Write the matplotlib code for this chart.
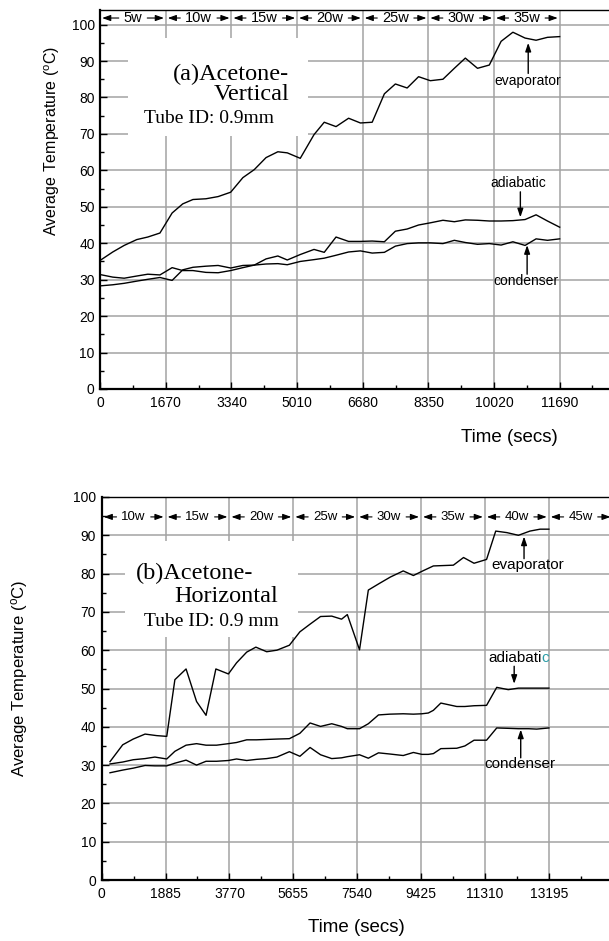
import matplotlib
matplotlib.use("Agg")
import matplotlib.pyplot as plt
from matplotlib.ticker import MultipleLocator
from matplotlib.patches import Rectangle

plt.rcParams['font.family'] = ['Liberation Sans', 'DejaVu Sans']
plt.rcParams['mathtext.fontset'] = 'custom'
plt.rcParams['mathtext.rm'] = 'Liberation Sans'
plt.rcParams['mathtext.it'] = 'Liberation Sans:italic'

# ---------------- data: (a) Acetone - Vertical ----------------
time_a = [0, 320, 610, 930, 1210, 1520, 1830, 2100, 2360, 2690, 3000, 3320, 3630, 3920,
          4220, 4520, 4760, 5090, 5440, 5700, 6000, 6320, 6620, 6920, 7230, 7510, 7810,
          8100, 8400, 8720, 9010, 9290, 9600, 9900, 10200, 10500, 10810, 11090, 11380, 11690]
evap_a = [35.3, 37.6, 39.4, 41.0, 41.7, 42.8, 48.3, 50.8, 52.0, 52.2, 52.8, 54.0, 58.0, 60.2,
          63.5, 65.1, 64.8, 63.3, 69.8, 73.2, 72.0, 74.3, 73.0, 73.2, 81.0, 83.7, 82.6,
          85.7, 84.6, 85.0, 88.0, 90.8, 88.0, 88.9, 95.4, 97.9, 96.3, 95.7, 96.5, 96.7]
adia_a = [31.4, 30.7, 30.4, 31.0, 31.5, 31.3, 33.3, 32.5, 32.5, 32.0, 31.9, 32.5, 33.3, 34.0,
          35.7, 36.5, 35.4, 36.9, 38.3, 37.5, 41.7, 40.5, 40.5, 40.6, 40.4, 43.3, 43.9,
          45.0, 45.6, 46.3, 45.9, 46.4, 46.3, 46.1, 46.1, 46.2, 46.5, 47.8, 46.1, 44.4]
cond_a = [28.3, 28.6, 29.0, 29.6, 30.1, 30.6, 29.8, 32.7, 33.4, 33.7, 33.9, 33.2, 33.9, 34.0,
          34.3, 34.4, 34.1, 35.0, 35.5, 35.9, 36.7, 37.6, 37.9, 37.3, 37.5, 39.2, 39.9,
          40.1, 40.1, 39.9, 40.8, 40.2, 39.7, 39.9, 39.5, 40.4, 39.4, 41.2, 40.8, 41.2]
xticks_a = [0, 1670, 3340, 5010, 6680, 8350, 10020, 11690]
seg_a = ["5w", "10w", "15w", "20w", "25w", "30w", "35w"]

# ---------------- data: (b) Acetone - Horizontal ----------------
time_b_evap = [245, 620, 930, 1280, 1620, 1920, 2160, 2490, 2800, 3080, 3370, 3740, 3980,
               4280, 4550, 4870, 5170, 5540, 5850, 6150, 6460, 6790, 7080, 7250, 7610,
               7870, 8190, 8520, 8900, 9200, 9500, 9790, 10380, 10680, 10990, 11360,
               11630, 11960, 12300, 12640, 12940, 13200]
evap_b = [30.9, 35.3, 36.8, 38.1, 37.7, 37.5, 52.3, 55.1, 46.6, 43.0, 55.1, 53.8, 56.7,
          59.5, 60.8, 59.6, 60.0, 61.3, 64.8, 66.8, 68.8, 68.9, 68.1, 69.3, 60.1,
          75.7, 77.4, 79.1, 80.7, 79.5, 80.8, 82.0, 82.2, 84.2, 82.7, 83.7,
          91.1, 90.7, 90.0, 91.1, 91.6, 91.6]
time_b = [245, 620, 930, 1280, 1570, 1920, 2160, 2490, 2800, 3080, 3390, 3740, 3980, 4280,
          4570, 4870, 5170, 5540, 5850, 6150, 6460, 6790, 7080, 7250, 7610, 7870, 8170,
          8500, 8900, 9200, 9450, 9640, 9790, 10010, 10480, 10720, 10990, 11360, 11660,
          12000, 12300, 12600, 12840, 13200]
adia_b = [30.3, 30.8, 31.4, 31.7, 32.1, 31.6, 33.6, 35.2, 35.6, 35.2, 35.2, 35.6, 35.9, 36.6,
          36.6, 36.7, 36.8, 36.9, 38.3, 41.0, 40.1, 40.8, 40.1, 39.5, 39.5, 40.8, 43.1,
          43.3, 43.4, 43.3, 43.4, 43.6, 44.3, 46.2, 45.3, 45.3, 45.5, 45.6, 50.3,
          49.7, 50.1, 50.1, 50.1, 50.1]
cond_b = [28.0, 28.7, 29.2, 29.9, 29.8, 29.8, 30.5, 31.3, 30.0, 31.0, 31.0, 31.2, 31.6, 31.2,
          31.5, 31.7, 32.1, 33.5, 32.3, 34.6, 32.7, 31.7, 31.9, 32.2, 32.7, 31.8, 33.2,
          32.9, 32.5, 33.3, 32.8, 32.8, 33.0, 34.3, 34.4, 35.0, 36.5, 36.5, 39.7,
          39.6, 39.5, 39.5, 39.4, 39.7]
xticks_b = [0, 1885, 3770, 5655, 7540, 9425, 11310, 13195]
seg_b = ["10w", "15w", "20w", "25w", "30w", "35w", "40w", "45w"]
yticks = [0, 10, 20, 30, 40, 50, 60, 70, 80, 90, 100]

W, H = 609, 941
fig = plt.figure(figsize=(W / 100, H / 100), dpi=100)


def fx(px):
    return px / W


def fy(py):
    return 1 - py / H


GRID = '#a3a3a3'


def style_axes(ax, xticks, xminor, xlim, ylim):
    ax.set_xlim(*xlim)
    ax.set_ylim(*ylim)
    ax.set_xticks(xticks)
    ax.set_xticklabels([str(v) for v in xticks])
    ax.xaxis.set_minor_locator(MultipleLocator(xminor))
    ax.set_yticks(yticks)
    ax.set_yticklabels([str(v) for v in yticks])
    ax.yaxis.set_minor_locator(MultipleLocator(5))
    ax.set_axisbelow(True)
    ax.grid(True, which='major', color=GRID, lw=1.1)
    ax.tick_params(which='both', direction='in', top=False, right=False,
                   labelsize=10, width=1.0, color='black')
    ax.tick_params(which='major', length=5, pad=4)
    ax.tick_params(which='minor', length=3)
    ax.tick_params(axis='x', pad=5)
    for s in ['left', 'bottom']:
        ax.spines[s].set_linewidth(1.6)
    ax.spines['top'].set_linewidth(1.0)
    ax.spines['right'].set_visible(False)


def segments(ax, bounds, labels, y, fs, gap):
    ap = dict(arrowstyle='-|>,head_length=0.5,head_width=0.18', mutation_scale=10,
              lw=0.8, color='black', shrinkA=1.5, shrinkB=0)
    for i, lab in enumerate(labels):
        a, b = bounds[i], bounds[i + 1]
        c = (a + b) / 2
        ax.annotate(lab, xy=(a + gap, y), xytext=(c, y), ha='center', va='center',
                    fontsize=fs, arrowprops=ap, annotation_clip=False, zorder=4)
        ax.annotate(lab, xy=(b - gap, y), xytext=(c, y), ha='center', va='center',
                    fontsize=fs, color='none', arrowprops=ap, annotation_clip=False, zorder=4)


def pointer(ax, x, y0, y1):
    ax.annotate('', xy=(x, y1), xytext=(x, y0),
                arrowprops=dict(arrowstyle='-|>,head_length=0.5,head_width=0.17',
                                mutation_scale=10, lw=1.0, color='black',
                                shrinkA=0, shrinkB=0), zorder=4)


# ---------------- panel (a) ----------------
ax1 = fig.add_axes([fx(100.2), fy(389), fx(625.3) - fx(100.2), fy(10) - fy(389)])
style_axes(ax1, xticks_a, 835, (0, 13360), (0, 104))
ax1.add_patch(Rectangle((708, 69.3), 5289 - 708, 96.3 - 69.3, facecolor='white',
                        edgecolor='none', zorder=1))
for ser in (evap_a, adia_a, cond_a):
    ax1.plot(time_a, ser, color='black', lw=1.0, zorder=2)
segments(ax1, xticks_a, seg_a, 101.8, 10.5, 50)
serif = ['Liberation Serif', 'DejaVu Serif']
ax1.text(4805, 84.8, "(a)Acetone-", family=serif, fontsize=17.5, ha='right', va='baseline', zorder=3)
ax1.text(4805, 79.3, "Vertical", family=serif, fontsize=17.5, ha='right', va='baseline', zorder=3)
ax1.text(1115, 73.0, "Tube ID: 0.9mm", family=serif, fontsize=14, ha='left', va='baseline', zorder=3)
ax1.text(10870, 84.6, "evaporator", fontsize=10, ha='center', va='center')
pointer(ax1, 10890, 86.6, 95.0)
ax1.text(10643, 56.6, "adiabatic", fontsize=10, ha='center', va='center')
pointer(ax1, 10690, 54.1, 47.1)
ax1.text(10822, 29.7, "condenser", fontsize=10, ha='center', va='center')
pointer(ax1, 10862, 31.5, 39.5)

fig.text(fx(52), fy(141), "Average Temperature ($^{\\rm o}$C)", rotation=90,
         ha='center', va='center', fontsize=11.5)
fig.text(fx(509), fy(437), "Time (secs)", ha='center', va='center', fontsize=13.5)

# ---------------- panel (b) ----------------
ax2 = fig.add_axes([fx(101.7), fy(880), fx(612.6) - fx(101.7), fy(497) - fy(880)])
style_axes(ax2, xticks_b, 942.5, (0, 15080), (0, 100))
ax2.add_patch(Rectangle((700, 63.4), 5795 - 700, 88.5 - 63.4, facecolor='white',
                        edgecolor='none', zorder=1))
ax2.plot(time_b_evap, evap_b, color='black', lw=1.0, zorder=2)
ax2.plot(time_b, adia_b, color='black', lw=1.0, zorder=2)
ax2.plot(time_b, cond_b, color='black', lw=1.0, zorder=2)
segments(ax2, xticks_b + [15080], seg_b, 94.8, 9.5, 60)
ax2.text(1013, 78.7, "(b)Acetone-", family=serif, fontsize=17.5, ha='left', va='baseline', zorder=3)
ax2.text(5214, 72.7, "Horizontal", family=serif, fontsize=17.5, ha='right', va='baseline', zorder=3)
ax2.text(5243, 66.4, "Tube ID: 0.9 mm", family=serif, fontsize=14, ha='right', va='baseline', zorder=3)
ax2.text(12576, 82.2, "evaporator", fontsize=11, ha='center', va='center')
pointer(ax2, 12466, 83.9, 89.7)
t_ad = ax2.text(12975, 58.0, "adiabati", fontsize=11, ha='right', va='center')
ax2.annotate("c", xy=(1, 0), xycoords=t_ad, ha='left', va='bottom', fontsize=11,
             color='#2a9ca6')
pointer(ax2, 12175, 55.8, 51.2)
ax2.text(12350, 30.3, "condenser", fontsize=11, ha='center', va='center')
pointer(ax2, 12368, 31.9, 39.3)

fig.text(fx(20), fy(678), "Average Temperature ($^{\\rm o}$C)", rotation=90,
         ha='center', va='center', fontsize=12)
fig.text(fx(356), fy(928), "Time (secs)", ha='center', va='center', fontsize=13.5)

fig.savefig("out.png", dpi=100, facecolor='white')
